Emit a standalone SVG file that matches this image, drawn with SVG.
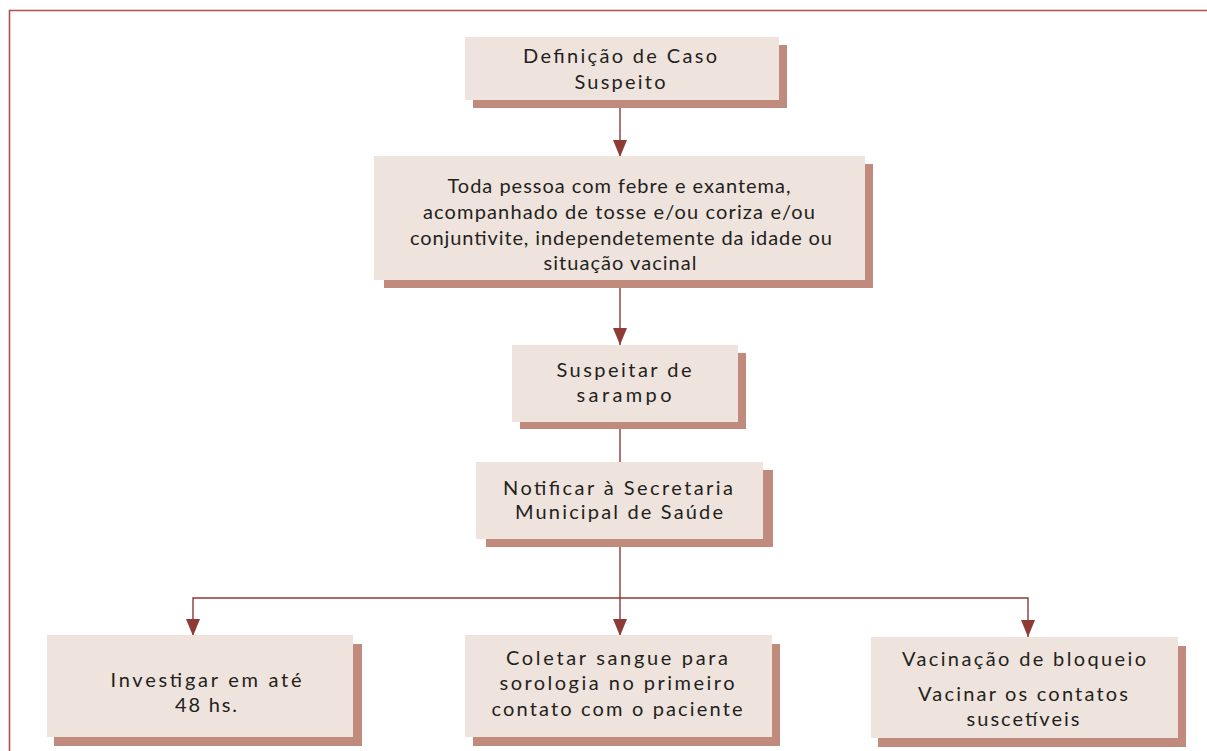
<svg xmlns="http://www.w3.org/2000/svg" width="1207" height="751" viewBox="0 0 1207 751">
<style>
.bg{fill:#ffffff}
.frame{fill:none;stroke:#b3504d;stroke-width:1.6}
.box{fill:#efe3dd}
.shadow{fill:#c08b7d}
.t{font-family:Lato,"Liberation Sans",sans-serif;font-size:20px;fill:#231f20;text-anchor:middle}
.c{fill:none;stroke:#8e3a36;stroke-width:1.4}
.ah{fill:#8e3a36}
</style>
<rect class="bg" x="0" y="0" width="1207" height="751"/>
<path class="frame" d="M9.5,751 L9.5,10.5 L1207,10.5"/>

<g id="connectors">
<line class="c" x1="620" y1="108" x2="620" y2="157"/>
<polygon class="ah" points="613,140 627,140 620,157"/>
<line class="c" x1="620" y1="288" x2="620" y2="345"/>
<polygon class="ah" points="613,328 627,328 620,345"/>
<line class="c" x1="620" y1="429" x2="620" y2="462"/>
<line class="c" x1="620" y1="547" x2="620" y2="598"/>
<path class="c" d="M193,636 L193,598 L1028,598 L1028,637"/>
<line class="c" x1="620" y1="598" x2="620" y2="636"/>
<polygon class="ah" points="186,619 200,619 193,636"/>
<polygon class="ah" points="613,619 627,619 620,636"/>
<polygon class="ah" points="1021,620 1035,620 1028,637"/>
</g>

<g id="n1">
<rect class="shadow" x="473" y="45" width="314" height="63"/>
<rect class="box" x="465" y="37" width="314" height="63"/>
<text class="t" x="620" y="63" textLength="194" lengthAdjust="spacing">Definição de Caso</text>
<text class="t" x="620" y="89" textLength="91" lengthAdjust="spacing">Suspeito</text>
</g>

<g id="n2">
<rect class="shadow" x="384" y="164" width="489" height="124"/>
<rect class="box" x="374" y="156" width="491" height="124"/>
<text class="t" x="619" y="193" textLength="343" lengthAdjust="spacing">Toda pessoa com febre e exantema,</text>
<text class="t" x="619" y="219" textLength="392" lengthAdjust="spacing">acompanhado de tosse e/ou coriza e/ou</text>
<text class="t" x="621" y="245" textLength="422" lengthAdjust="spacing">conjuntivite, independetemente da idade ou</text>
<text class="t" x="620" y="270" textLength="153" lengthAdjust="spacing">situação vacinal</text>
</g>

<g id="n3">
<rect class="shadow" x="520" y="353" width="226" height="76"/>
<rect class="box" x="512" y="345" width="226" height="77"/>
<text class="t" x="624" y="377" textLength="135" lengthAdjust="spacing">Suspeitar de</text>
<text class="t" x="624" y="402" textLength="95" lengthAdjust="spacing">sarampo</text>
</g>

<g id="n4">
<rect class="shadow" x="486" y="470" width="287" height="77"/>
<rect class="box" x="476" y="462" width="287" height="77"/>
<text class="t" x="618" y="495" textLength="230" lengthAdjust="spacing">Notificar à Secretaria</text>
<text class="t" x="619" y="519" textLength="208" lengthAdjust="spacing">Municipal de Saúde</text>
</g>

<g id="n5">
<rect class="shadow" x="54" y="644" width="308" height="102"/>
<rect class="box" x="47" y="635" width="306" height="102"/>
<text class="t" x="206" y="687" textLength="191" lengthAdjust="spacing">Investigar em até</text>
<text class="t" x="206" y="712" textLength="62" lengthAdjust="spacing">48 hs.</text>
</g>

<g id="n6">
<rect class="shadow" x="473" y="644" width="307" height="102"/>
<rect class="box" x="465" y="635" width="307" height="102"/>
<text class="t" x="617" y="665" textLength="222" lengthAdjust="spacing">Coletar sangue para</text>
<text class="t" x="617" y="690" textLength="235" lengthAdjust="spacing">sorologia no primeiro</text>
<text class="t" x="617" y="716" textLength="251" lengthAdjust="spacing">contato com o paciente</text>
</g>

<g id="n7">
<rect class="shadow" x="878" y="646" width="308" height="101"/>
<rect class="box" x="871" y="637" width="307" height="101"/>
<text class="t" x="1024" y="666" textLength="244" lengthAdjust="spacing">Vacinação de bloqueio</text>
<text class="t" x="1023" y="701" textLength="210" lengthAdjust="spacing">Vacinar os contatos</text>
<text class="t" x="1023" y="726" textLength="113" lengthAdjust="spacing">suscetíveis</text>
</g>
</svg>
